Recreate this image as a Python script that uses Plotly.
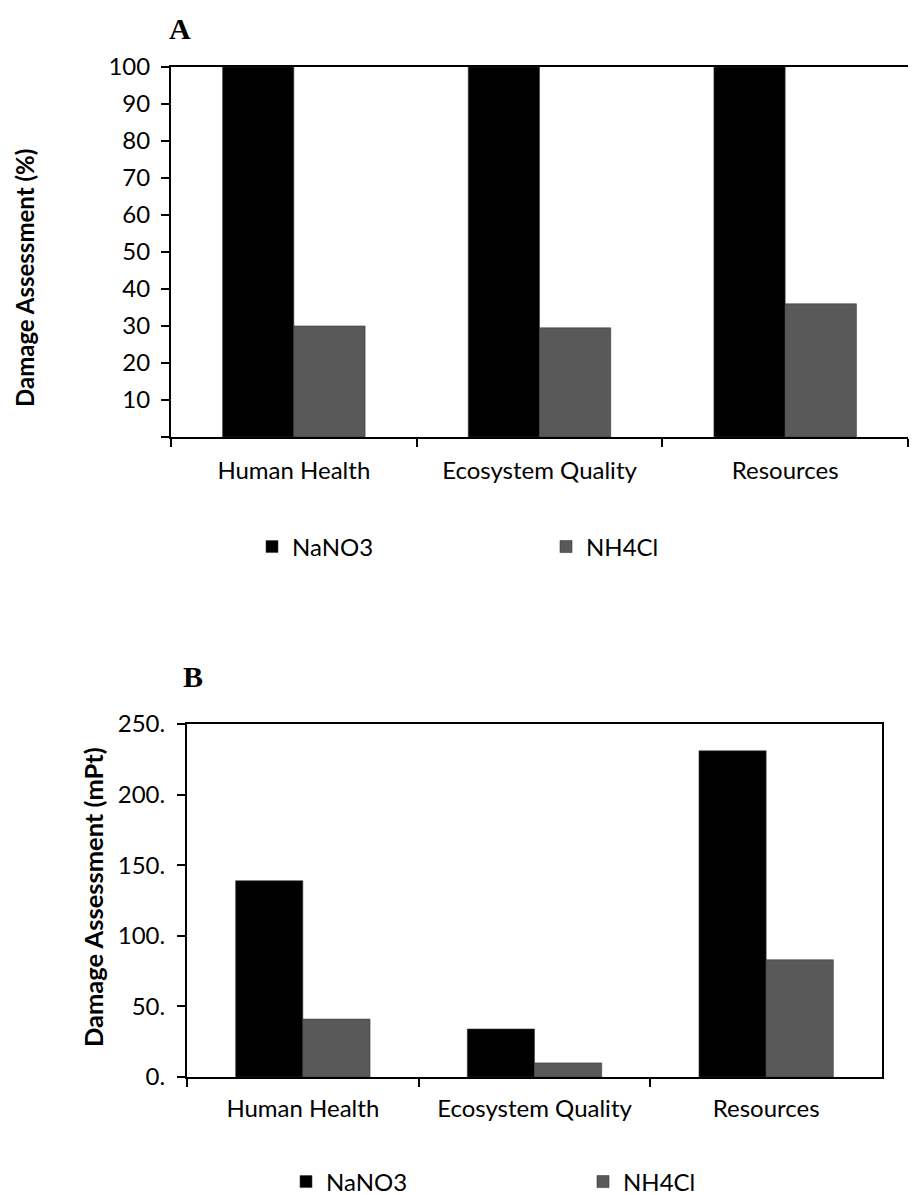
import plotly.graph_objects as go

categories = ["Human Health", "Ecosystem Quality", "Resources"]
series_names = ["NaNO3", "NH4Cl"]

# Panel A: relative damage (%)
pct_nano3 = [100, 100, 100]
pct_nh4cl = [30, 29.5, 36]

# Panel B: damage in mPt
mpt_nano3 = [139, 34, 231]
mpt_nh4cl = [41, 10, 83]

pct_ticks = [0, 10, 20, 30, 40, 50, 60, 70, 80, 90, 100]
pct_ticktext = ["", "10", "20", "30", "40", "50", "60", "70", "80", "90", "100"]
mpt_ticks = [0, 50, 100, 150, 200, 250]
mpt_ticktext = ["0.", "50.", "100.", "150.", "200.", "250."]

colors = ["#000000", "#595959"]

W, H = 912, 1195
FONT = "Lato"
TICK_SIZE = 24

fig = go.Figure()

for name, vals, col in zip(series_names, [pct_nano3, pct_nh4cl], colors):
    fig.add_trace(go.Bar(
        x=categories, y=vals, name=name, xaxis="x", yaxis="y",
        marker=dict(color=col, line=dict(color="#3a3a3a", width=0.6)),
        legend="legend",
    ))

for name, vals, col in zip(series_names, [mpt_nano3, mpt_nh4cl], colors):
    fig.add_trace(go.Bar(
        x=categories, y=vals, name=name, xaxis="x2", yaxis="y2",
        marker=dict(color=col, line=dict(color="#3a3a3a", width=0.6)),
        legend="legend2",
    ))

axis_common = dict(
    showline=True, linecolor="black", linewidth=2,
    ticks="outside", tickcolor="black", tickwidth=2, ticklen=8,
    showgrid=False, zeroline=False, automargin=False,
    tickfont=dict(family=FONT, size=TICK_SIZE, color="black"),
)

def px_x(p):
    return p / W

def px_y(p):
    return 1 - p / H

def paper_text(text, x, y, font, size, angle=0):
    return dict(text=text, x=px_x(x), y=px_y(y), xref="paper", yref="paper",
                xanchor="center", yanchor="middle", showarrow=False, textangle=angle,
                font=dict(family=font, size=size, color="black"))

fig.update_layout(
    width=W, height=H,
    margin=dict(l=0, r=0, t=0, b=0, autoexpand=False),
    paper_bgcolor="white", plot_bgcolor="white",
    barmode="group",
    bargap=0.42,
    bargroupgap=0,
    font=dict(family=FONT, color="black"),
    xaxis=dict(
        domain=[px_x(171), px_x(908)], anchor="y", tickangle=0,
        tickson="boundaries", mirror=True, ticklabelstandoff=11, **axis_common,
    ),
    yaxis=dict(
        domain=[px_y(437), px_y(67)], anchor="x",
        range=[0, 100], tickvals=pct_ticks, ticktext=pct_ticktext,
        ticklabelstandoff=6, **axis_common,
    ),
    xaxis2=dict(
        domain=[px_x(187), px_x(882)], anchor="y2", tickangle=0,
        tickson="boundaries", mirror=True, ticklabelstandoff=9, **axis_common,
    ),
    yaxis2=dict(
        domain=[px_y(1077), px_y(724)], anchor="x2",
        range=[0, 250], tickvals=mpt_ticks, ticktext=mpt_ticktext,
        mirror=True, ticklabelstandoff=7, **axis_common,
    ),
    legend=dict(
        orientation="h", x=px_x(252), y=px_y(547), xanchor="left", yanchor="middle",
        entrywidth=249, entrywidthmode="pixels",
        font=dict(family=FONT, size=TICK_SIZE, color="black"),
        bgcolor="rgba(0,0,0,0)",
    ),
    legend2=dict(
        orientation="h", x=px_x(286), y=px_y(1182), xanchor="left", yanchor="middle",
        entrywidth=252, entrywidthmode="pixels",
        font=dict(family=FONT, size=TICK_SIZE, color="black"),
        bgcolor="rgba(0,0,0,0)",
    ),
    annotations=[
        paper_text("<b>A</b>", 180, 28, "Liberation Serif", 30),
        paper_text("<b>B</b>", 193, 676, "Liberation Serif", 30),
        paper_text("<b>Damage Assessment (%)</b>", 24, 278, FONT, 24, -90),
        paper_text("<b>Damage Assessment (mPt)</b>", 93, 897, FONT, 25.5, -90),
    ],
)

fig.write_html("out.html")
